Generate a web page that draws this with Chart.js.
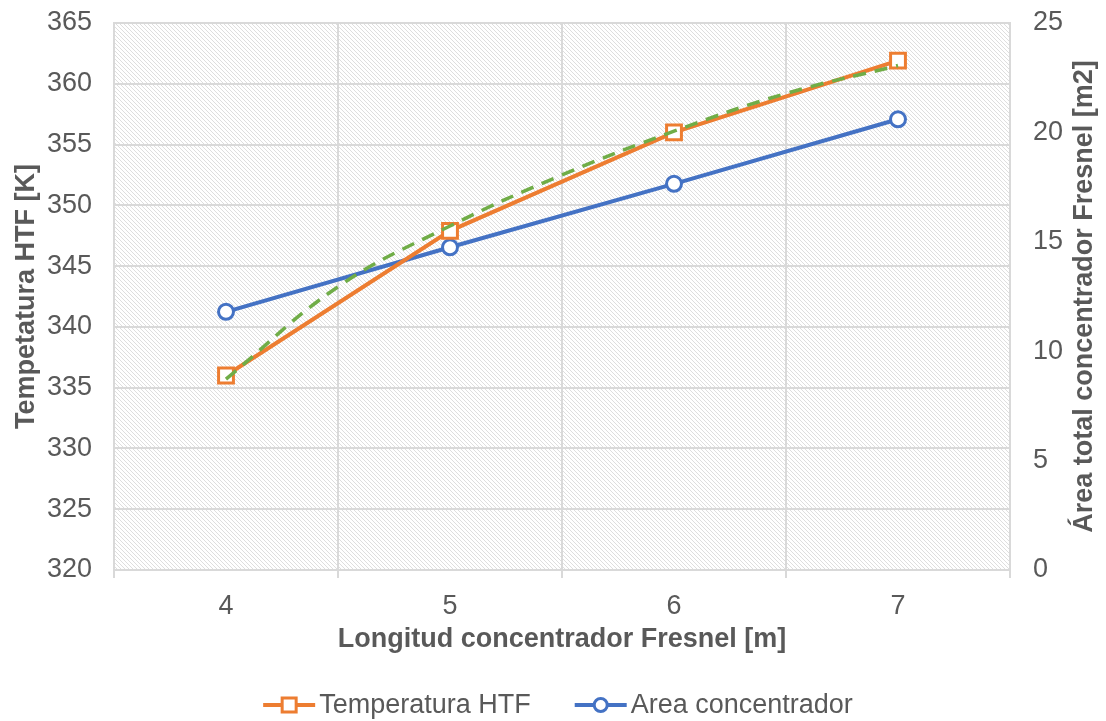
<!DOCTYPE html>
<html>
<head>
<meta charset="utf-8">
<script src="https://cdn.jsdelivr.net/npm/chart.js@4.4.1/dist/chart.umd.min.js"></script>
<style>
  html, body { margin: 0; padding: 0; background: #fff; }
  #wrap { width: 1106px; height: 721px; }
</style>
</head>
<body>
<div id="wrap"><canvas id="chart" width="1106" height="721"></canvas></div>
<script>
// Longitud del concentrador [m]
const longitudes = ['4', '5', '6', '7'];
// Temperatura del fluido HTF [K]
const temperaturaHTF = [336, 347.9, 356, 361.9];
// Área total del concentrador [m2]
const areaConcentrador = [11.8, 14.75, 17.65, 20.6];
// Línea de tendencia de la temperatura
const tendenciaX = [4, 4.5, 5, 5.5, 6, 6.5, 7];
const tendenciaY = [335.7, 343.3, 348.3, 352.5, 356.1, 359.2, 361.5];

const tempMin = 320, tempMax = 365, tempStep = 5;
const areaMin = 0, areaMax = 25, areaStep = 5;

const FONT = "'Liberation Sans', Arial, sans-serif";
const TEXT = '#595959';
const GRID = '#d9d9d9';
const NARANJA = '#ED7D31';
const AZUL = '#4472C4';
const VERDE = '#70AD47';

Chart.defaults.font.family = FONT;
Chart.defaults.color = TEXT;

function hatchPattern(ctx) {
  const tile = document.createElement('canvas');
  tile.width = 4;
  tile.height = 4;
  const t = tile.getContext('2d');
  t.fillStyle = '#ffffff';
  t.fillRect(0, 0, 4, 4);
  t.fillStyle = '#dedede';
  for (let i = 0; i < 4; i++) t.fillRect(i, i, 1, 1);
  return ctx.createPattern(tile, 'repeat');
}

// fondo blanco y rayado del área de trazado
const plotBackground = {
  id: 'plotBackground',
  beforeDraw(chart) {
    const { ctx, chartArea: a, width, height } = chart;
    ctx.save();
    ctx.fillStyle = '#ffffff';
    ctx.fillRect(0, 0, width, height);
    ctx.fillStyle = hatchPattern(ctx);
    ctx.fillRect(a.left, a.top, a.right - a.left, a.bottom - a.top);
    ctx.restore();
  }
};

function drawIcon(ctx, x, y, ds) {
  ctx.strokeStyle = ds.borderColor;
  ctx.lineWidth = 4;
  ctx.beginPath();
  ctx.moveTo(x, y);
  ctx.lineTo(x + 52, y);
  ctx.stroke();
  ctx.fillStyle = '#ffffff';
  ctx.lineWidth = 3;
  ctx.beginPath();
  if (ds.pointStyle === 'rect') ctx.rect(x + 26 - 7, y - 7, 14, 14);
  else ctx.arc(x + 26, y, 6.5, 0, Math.PI * 2);
  ctx.fill();
  ctx.stroke();
}

// título del eje derecho (leído de abajo a arriba) y leyenda inferior
const extras = {
  id: 'extras',
  afterDraw(chart) {
    const { ctx, chartArea: a } = chart;
    ctx.save();
    ctx.fillStyle = TEXT;
    ctx.font = `bold 27px ${FONT}`;
    ctx.textAlign = 'center';
    ctx.textBaseline = 'middle';
    ctx.translate(1085, (a.top + a.bottom) / 2);
    ctx.rotate(-Math.PI / 2);
    ctx.fillText('Área total concentrador Fresnel [m2]', 0, 0);
    ctx.restore();

    const items = chart.data.datasets.filter(d => !d.isTrend);
    ctx.save();
    ctx.font = `27px ${FONT}`;
    ctx.textBaseline = 'middle';
    const widths = items.map(d => 52 + 4 + ctx.measureText(d.label).width);
    const gap = 44;
    const total = widths.reduce((s, w) => s + w, 0) + gap * (items.length - 1);
    let x = 558 - total / 2;
    const y = 705;
    items.forEach((d, i) => {
      drawIcon(ctx, x, y, d);
      ctx.fillStyle = TEXT;
      ctx.fillText(d.label, x + 56, y + 1);
      x += widths[i] + gap;
    });
    ctx.restore();
  }
};

// ancho fijo de los ejes verticales, sin margen extra por las etiquetas
function fixVertical(width) {
  return scale => {
    scale.width = width;
    scale.paddingTop = 0;
    scale.paddingBottom = 0;
  };
}

new Chart(document.getElementById('chart'), {
  type: 'line',
  data: {
    labels: longitudes,
    datasets: [
      {
        label: 'Tendencia',
        isTrend: true,
        data: tendenciaX.map((x, i) => ({ x, y: tendenciaY[i] })),
        xAxisID: 'xTrend',
        yAxisID: 'y',
        borderColor: VERDE,
        borderWidth: 3.5,
        borderDash: [13, 9],
        pointRadius: 0,
        tension: 0.4
      },
      {
        label: 'Temperatura HTF',
        data: temperaturaHTF,
        yAxisID: 'y',
        borderColor: NARANJA,
        backgroundColor: '#ffffff',
        borderWidth: 4,
        pointStyle: 'rect',
        pointRadius: 10.5,
        pointBorderWidth: 3,
        pointBackgroundColor: '#ffffff'
      },
      {
        label: 'Area concentrador',
        data: areaConcentrador,
        yAxisID: 'y2',
        borderColor: AZUL,
        backgroundColor: '#ffffff',
        borderWidth: 4,
        pointStyle: 'circle',
        pointRadius: 7.5,
        pointBorderWidth: 3,
        pointBackgroundColor: '#ffffff'
      }
    ]
  },
  options: {
    responsive: false,
    animation: false,
    devicePixelRatio: 1,
    layout: { padding: { top: 23, bottom: 51, left: 0, right: 0 } },
    plugins: {
      legend: { display: false },
      tooltip: { enabled: false }
    },
    scales: {
      x: {
        type: 'category',
        offset: true,
        grid: { offset: true, color: GRID, lineWidth: 2, tickLength: 8 },
        border: { color: GRID, width: 2 },
        ticks: { font: { size: 27 }, padding: 12, color: TEXT },
        title: {
          display: true,
          text: 'Longitud concentrador Fresnel [m]',
          font: { size: 27, weight: 'bold' },
          color: TEXT,
          padding: { top: 0, bottom: 14 }
        },
        afterFit(scale) {
          scale.height = 100;
          scale.paddingLeft = 0;
          scale.paddingRight = 0;
        }
      },
      xTrend: { type: 'linear', display: false, min: 3.5, max: 7.5 },
      y: {
        position: 'left',
        min: tempMin,
        max: tempMax,
        ticks: { stepSize: tempStep, padding: 22, font: { size: 27 }, color: TEXT },
        grid: { color: GRID, lineWidth: 2, drawTicks: false },
        border: { color: GRID, width: 2 },
        title: {
          display: true,
          text: 'Tempetatura HTF [K]',
          font: { size: 27, weight: 'bold' },
          color: TEXT,
          padding: { top: 10, bottom: 0 }
        },
        afterFit: fixVertical(114)
      },
      y2: {
        position: 'right',
        min: areaMin,
        max: areaMax,
        ticks: { stepSize: areaStep, padding: 23, font: { size: 27 }, color: TEXT },
        grid: { drawOnChartArea: false, drawTicks: false },
        border: { color: GRID, width: 2 },
        afterFit: fixVertical(96)
      }
    }
  },
  plugins: [plotBackground, extras]
});
</script>
</body>
</html>
